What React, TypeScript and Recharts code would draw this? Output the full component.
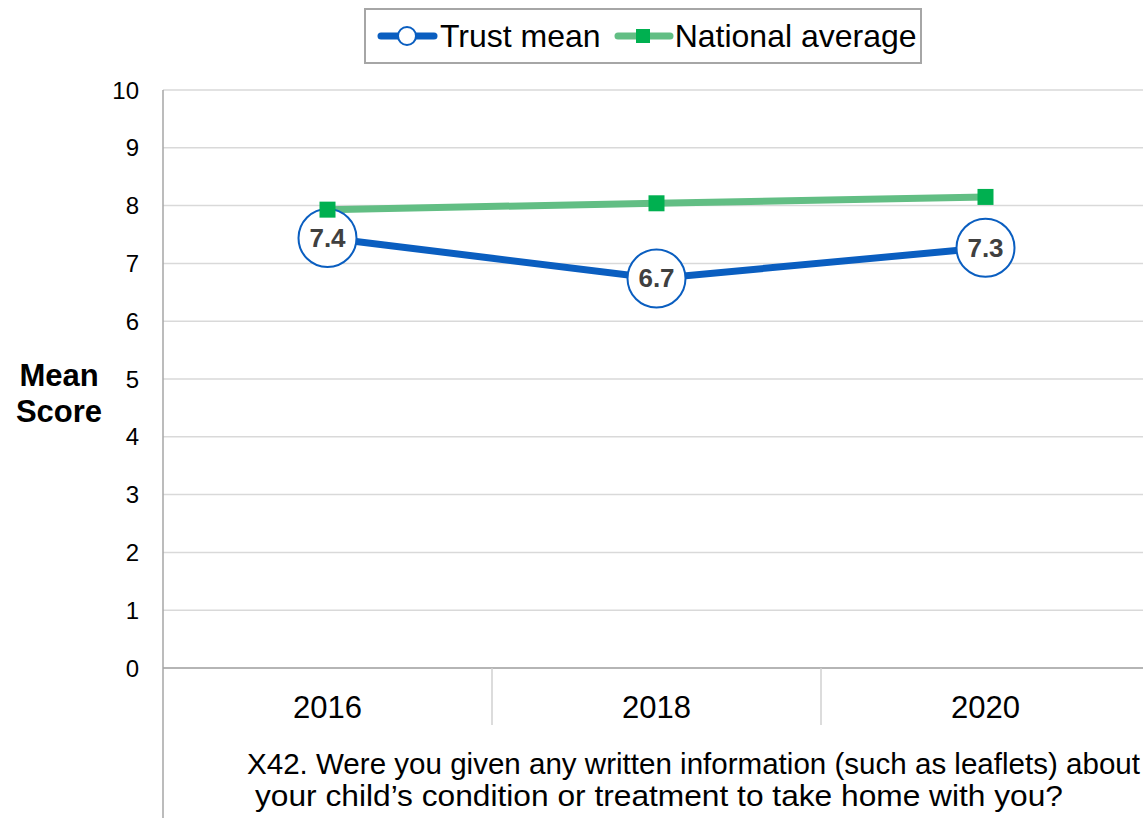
import React from "react";
import { LineChart, Line, XAxis, YAxis, CartesianGrid, Legend, LabelList } from "recharts";

const years = ["2016", "2018", "2020"];
const trustMean = [7.44, 6.74, 7.27];
const nationalAverage = [7.93, 8.04, 8.15];
const yTicks = [0, 1, 2, 3, 4, 5, 6, 7, 8, 9, 10];
const questionLines = [
  "X42. Were you given any written information (such as leaflets) about",
  "your child\u2019s condition or treatment to take home with you?",
];
const yLabelLines = ["Mean", "Score"];

const data = years.map((y, i) => ({ year: y, trust: trustMean[i], national: nationalAverage[i] }));

const FONT = '"Liberation Sans", Arial, sans-serif';
const BLUE = "#0A5EC0";
const GREEN_LINE = "#62BE84";
const GREEN_MARK = "#00B050";

const CHART_W = 1150;
const CHART_H = 818;
const PLOT_LEFT = 163;
const Y_AXIS_W = 60;
const X_AXIS_H = 60;
const MARGIN = { top: 90, right: 0, bottom: 150 - X_AXIS_H, left: PLOT_LEFT - Y_AXIS_W };
const BAND = (CHART_W - PLOT_LEFT - MARGIN.right) / years.length;

const XTick = (props: any) => {
  const { x, y, payload, index } = props;
  return (
    <g>
      {index === 0 && (
        <line x1={x - BAND / 2} x2={x - BAND / 2} y1={y} y2={y + 150} stroke="#A6A6A6" strokeWidth={1.5} />
      )}
      <line x1={x + BAND / 2} x2={x + BAND / 2} y1={y} y2={y + 57} stroke="#D0D0D0" strokeWidth={1.5} />
      <text x={x} y={y + 50} textAnchor="middle" fontFamily={FONT} fontSize={31} fill="#000">
        {payload.value}
      </text>
    </g>
  );
};

const XLabel = () => (
  <g fontFamily={FONT} fontSize={29} fill="#000">
    <text x={247} y={774} textLength={893} lengthAdjust="spacingAndGlyphs">
      {questionLines[0]}
    </text>
    <text x={255} y={806} textLength={808} lengthAdjust="spacingAndGlyphs">
      {questionLines[1]}
    </text>
  </g>
);

const YLabel = () => (
  <text fontFamily={FONT} fontSize={31} fontWeight="bold" fill="#000" textAnchor="middle">
    <tspan x={59} y={386}>{yLabelLines[0]}</tspan>
    <tspan x={59} y={422}>{yLabelLines[1]}</tspan>
  </text>
);

const TrustDot = (props: any) => {
  const { cx, cy } = props;
  if (cx == null || cy == null) return null;
  return <circle cx={cx} cy={cy} r={29} fill="#fff" stroke={BLUE} strokeWidth={2} />;
};

const NationalDot = (props: any) => {
  const { cx, cy } = props;
  if (cx == null || cy == null) return null;
  return <rect x={cx - 8} y={cy - 8} width={16} height={16} fill={GREEN_MARK} />;
};

const TrustLabel = (props: any) => {
  const { x, y, value } = props;
  return (
    <text x={x} y={y + 9} textAnchor="middle" fontFamily={FONT} fontSize={26} fontWeight="bold" fill="#404040">
      {Number(value).toFixed(1)}
    </text>
  );
};

const LegendContent = () => (
  <div
    style={{
      boxSizing: "border-box",
      width: 558,
      height: 56,
      border: "2px solid #A6A6A6",
      background: "#fff",
      display: "flex",
      alignItems: "center",
      paddingLeft: 11,
      fontFamily: FONT,
      fontSize: 32,
      color: "#000",
      whiteSpace: "nowrap",
      overflow: "hidden",
    }}
  >
    <svg width={63} height={24} style={{ display: "block", flex: "none" }}>
      <line x1={4} x2={57} y1={12} y2={12} stroke={BLUE} strokeWidth={7} strokeLinecap="round" />
      <circle cx={30} cy={12} r={9} fill="#fff" stroke={BLUE} strokeWidth={2} />
    </svg>
    <span style={{ marginRight: 13 }}>Trust mean</span>
    <svg width={61} height={24} style={{ display: "block", flex: "none" }}>
      <line x1={4} x2={56} y1={12} y2={12} stroke={GREEN_LINE} strokeWidth={7} strokeLinecap="round" />
      <rect x={22} y={5} width={14} height={14} fill={GREEN_MARK} />
    </svg>
    <span>National average</span>
  </div>
);

export default function App() {
  return (
    <div style={{ width: 1143, height: 818, overflow: "hidden", position: "relative", background: "#fff" }}>
      <style>{"body{margin:0;overflow:hidden;}"}</style>
      <LineChart width={CHART_W} height={CHART_H} data={data} margin={MARGIN}>
        <CartesianGrid vertical={false} stroke="#D9D9D9" strokeWidth={1.5} />
        <XAxis
          dataKey="year"
          scale="band"
          height={X_AXIS_H}
          axisLine={{ stroke: "#A6A6A6", strokeWidth: 1.5 }}
          tickLine={false}
          tickSize={0}
          tickMargin={0}
          interval={0}
          tick={<XTick />}
          label={<XLabel />}
        />
        <YAxis
          width={Y_AXIS_W}
          domain={[0, 10]}
          ticks={yTicks}
          interval={0}
          axisLine={{ stroke: "#A6A6A6", strokeWidth: 1.5 }}
          tickLine={false}
          tickSize={0}
          tickMargin={24}
          tick={{ fontFamily: FONT, fontSize: 24, fill: "#000" }}
          label={<YLabel />}
        />
        <Legend
          layout="horizontal"
          verticalAlign="middle"
          align="center"
          content={<LegendContent />}
          wrapperStyle={{ position: "absolute", top: 8, left: 364, width: 558, height: 56 }}
        />
        <Line
          dataKey="trust"
          name="Trust mean"
          stroke={BLUE}
          strokeWidth={7}
          dot={<TrustDot />}
          activeDot={false}
          isAnimationActive={false}
        >
          <LabelList dataKey="trust" content={<TrustLabel />} />
        </Line>
        <Line
          dataKey="national"
          name="National average"
          stroke={GREEN_LINE}
          strokeWidth={7}
          dot={<NationalDot />}
          activeDot={false}
          isAnimationActive={false}
        />
      </LineChart>
    </div>
  );
}
